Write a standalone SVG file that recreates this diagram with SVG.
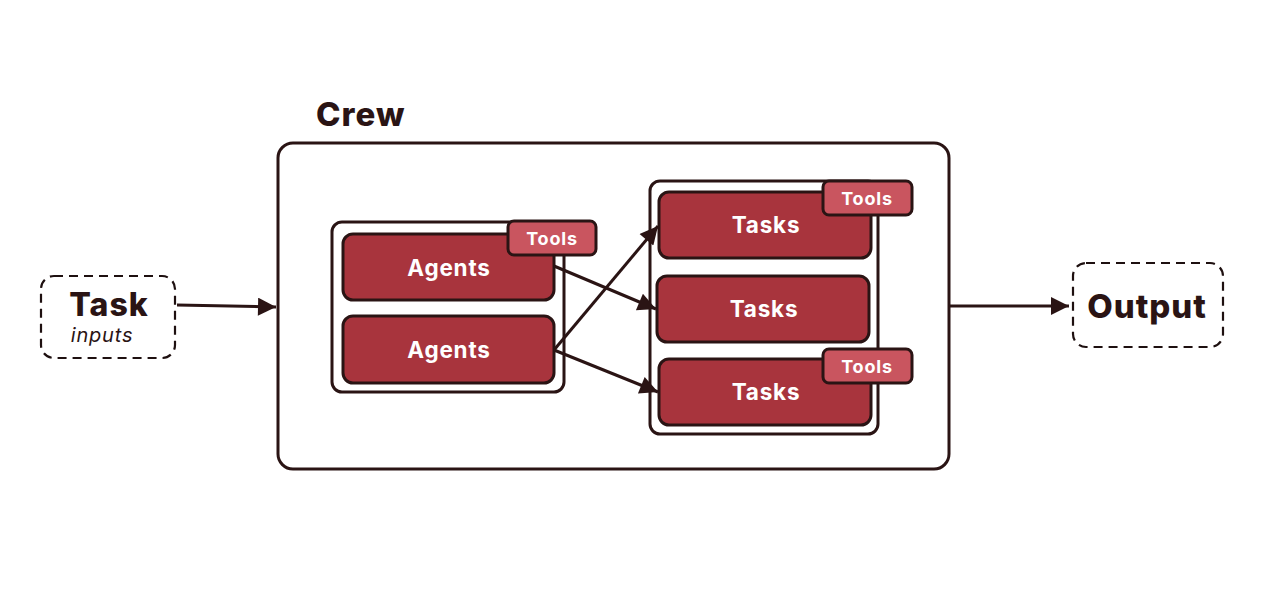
<svg xmlns="http://www.w3.org/2000/svg" width="1288" height="594" viewBox="0 0 1288 594">
<style>
.dash{fill:#fff;stroke:#1e1010;stroke-width:2.2;stroke-dasharray:9 6}
.frame{fill:#fff;stroke:#2a1414;stroke-width:3}
.card{fill:#a8343d;stroke:#2a1414;stroke-width:3}
.tool{fill:#c9555f;stroke:#2a1414;stroke-width:3}
.lbl{font-family:Inter,"Open Sans",sans-serif;font-weight:700;fill:#fff;text-anchor:middle;letter-spacing:0.8px}
.big{font-family:Inter,"Open Sans",sans-serif;font-weight:800;fill:#2a1414;letter-spacing:1px}
.edge{stroke:#2a1414;stroke-width:3;fill:none;marker-end:url(#ah)}
</style>
<defs>
<marker id="ah" viewBox="0 0 10 10" refX="10" refY="5" markerWidth="7" markerHeight="6" markerUnits="strokeWidth" orient="auto"><path d="M0,0 L10,5 L0,10 z" fill="#2a1414"/></marker>
</defs>
<rect width="1288" height="594" fill="#fff"/>
<g id="task-input">
<rect class="dash" x="41" y="276" width="134" height="82" rx="13"/>
<text class="big" x="109" y="316" font-size="32" text-anchor="middle">Task</text>
<text x="102" y="342" font-size="20" font-style="italic" font-family="Inter,'Open Sans',sans-serif" fill="#2a1414" text-anchor="middle" letter-spacing="0.8px">inputs</text>
</g>
<g id="crew">
<text class="big" x="316" y="126" font-size="33">Crew</text>
<rect class="frame" x="278" y="143" width="671" height="326" rx="15"/>
</g>
<g id="agents">
<rect class="frame" x="332" y="222" width="232" height="170" rx="10"/>
<g id="agent1">
<rect class="card" x="343" y="234" width="211" height="66" rx="10"/>
<text class="lbl" x="449" y="276" font-size="22.5">Agents</text>
<rect class="tool" x="508" y="221" width="88" height="34" rx="6"/>
<text class="lbl" x="552" y="245" font-size="18">Tools</text>
</g>
<g id="agent2">
<rect class="card" x="343" y="316" width="211" height="67" rx="10"/>
<text class="lbl" x="449" y="358" font-size="22.5">Agents</text>
</g>
</g>
<g id="tasks">
<rect class="frame" x="650" y="181" width="228" height="253" rx="10"/>
<g id="task1">
<rect class="card" x="659" y="192" width="212" height="66" rx="10"/>
<text class="lbl" x="766" y="233" font-size="22.5">Tasks</text>
<rect class="tool" x="823" y="181" width="89" height="34" rx="6"/>
<text class="lbl" x="867" y="205" font-size="18">Tools</text>
</g>
<g id="task2">
<rect class="card" x="657" y="276" width="212" height="66" rx="10"/>
<text class="lbl" x="764" y="317" font-size="22.5">Tasks</text>
</g>
<g id="task3">
<rect class="card" x="659" y="359" width="212" height="66" rx="10"/>
<text class="lbl" x="766" y="400" font-size="22.5">Tasks</text>
<rect class="tool" x="823" y="349" width="89" height="34" rx="6"/>
<text class="lbl" x="867" y="373" font-size="18">Tools</text>
</g>
</g>
<g id="output">
<rect class="dash" x="1073" y="263" width="150" height="84" rx="13"/>
<text class="big" x="1147" y="318" font-size="33" text-anchor="middle">Output</text>
</g>
<g id="connectors">
<path class="edge" d="M177,305 L276,307"/>
<path class="edge" d="M554,266 L656,309"/>
<path class="edge" d="M554,350 L658,226"/>
<path class="edge" d="M554,350 L658,392"/>
<path class="edge" d="M950,306 L1069,306"/>
</g>
</svg>
